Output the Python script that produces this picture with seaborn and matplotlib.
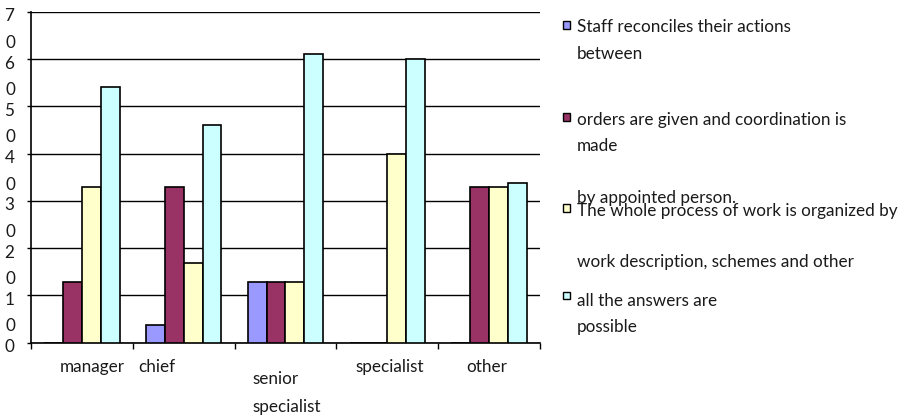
import numpy as np
import pandas as pd
import seaborn as sns
import matplotlib.pyplot as plt
from matplotlib.patches import Rectangle
from matplotlib import transforms

# categories and series values
categories = ['manager', 'chief', 'senior specialist', 'specialist', 'other']
staff_vals = [0, 0.38, 1.28, 0, 0]
orders_vals = [1.28, 3.3, 1.28, 0, 3.3]
whole_vals = [3.3, 1.69, 1.28, 4.0, 3.3]
all_vals = [5.41, 4.6, 6.12, 6.0, 3.39]
series_names = ['staff', 'orders', 'whole', 'all']

# tick / axis text
xlabels = ['manager', 'chief', 'senior\nspecialist', 'specialist', 'other']
ymajor = [0, 1, 2, 3, 4, 5, 6, 7]
ymajor_labels = ['0', '1', '2', '3', '4', '5', '6', '7']
yminor = [0.38, 1.38, 2.38, 3.38, 4.38, 5.38, 6.38]
yminor_labels = ['0', '0', '0', '0', '0', '0', '0']

legend_lines = [
    ['Staff reconciles their actions', 'between'],
    ['orders are given and coordination is', 'made', 'by appointed person.'],
    ['The whole process of work is organized by', 'work description, schemes and other'],
    ['all the answers are', 'possible'],
]

colors = ['#9999FF', '#993366', '#FFFFCC', '#CCFFFF']

df = pd.DataFrame({
    'category': categories * 4,
    'series': np.repeat(series_names, len(categories)),
    'value': staff_vals + orders_vals + whole_vals + all_vals,
})

sns.set_style('white')
plt.rcParams['font.family'] = ['Lato', 'DejaVu Sans']
plt.rcParams['text.color'] = '#1a1a1a'
FS = 12.3

fig = plt.figure(figsize=(9.04, 4.16), dpi=100)
ax = fig.add_axes([0.0343, 0.1762, 0.5630, 0.7950])

sns.barplot(data=df, x='category', y='value', hue='series', palette=colors,
            saturation=1, width=0.74, errorbar=None, edgecolor='black',
            linewidth=1.2, legend=False, ax=ax, zorder=3)

ax.set_ylim(0, 7)
ax.set_xlim(-0.5, 4.5)
ax.set_xlabel('')
ax.set_ylabel('')

# y axis: integer ticks plus the odd "0" labels between them
ax.set_yticks(ymajor, ymajor_labels)
ax.set_yticks(yminor, yminor_labels, minor=True)
ax.tick_params(axis='y', which='major', length=3, width=1, color='black',
               pad=9, labelsize=FS, left=True, labelcolor='#1a1a1a')
ax.tick_params(axis='y', which='minor', length=0, pad=11.2, labelsize=FS, left=True,
               labelcolor='#1a1a1a')
off = transforms.ScaledTranslation(0, -3 / 100, fig.dpi_scale_trans)
for lab in ax.get_yticklabels():
    lab.set_transform(lab.get_transform() + off)

ax.yaxis.grid(True, which='major', color='black', linewidth=1)
ax.set_axisbelow(True)

# x axis: ticks at category boundaries, labels placed as in the original
ax.set_xticks(np.arange(-0.5, 5, 1), [''] * 6)
ax.tick_params(axis='x', length=4, width=1, color='black', bottom=True, direction='out')

for s in ['top', 'right']:
    ax.spines[s].set_visible(False)
for s in ['left', 'bottom']:
    ax.spines[s].set_color('black')
    ax.spines[s].set_linewidth(1.2)

blend = transforms.blended_transform_factory(ax.transData, fig.transFigure)
ax.text(0.10, 1 - 367 / 416, xlabels[0], transform=blend, ha='center', va='center', fontsize=FS)
ax.text(0.74, 1 - 367 / 416, xlabels[1], transform=blend, ha='center', va='center', fontsize=FS)
ax.text(1.68, 1 - 393 / 416, xlabels[2], transform=blend, ha='left', va='center',
        fontsize=FS, linespacing=1.85)
ax.text(3.02, 1 - 367 / 416, xlabels[3], transform=blend, ha='center', va='center', fontsize=FS)
ax.text(3.98, 1 - 367 / 416, xlabels[4], transform=blend, ha='center', va='center', fontsize=FS)

# legend drawn by hand to keep the original's odd line layout
square_y = [25, 117, 208, 295]
line_y = [[27, 54], [120, 146, 198], [211, 262], [301, 327]]
W, H = fig.get_size_inches() * fig.dpi
for c, sy, lines, ys in zip(colors, square_y, legend_lines, line_y):
    fig.patches.append(Rectangle((563 / W, 1 - (sy + 3.5) / H), 7 / W, 7 / H,
                                 facecolor=c, edgecolor='black', linewidth=1,
                                 transform=fig.transFigure, figure=fig))
    for t, y in zip(lines, ys):
        fig.text(577 / W, 1 - y / H, t, ha='left', va='center', fontsize=FS)

fig.savefig('out.png', dpi=100)
